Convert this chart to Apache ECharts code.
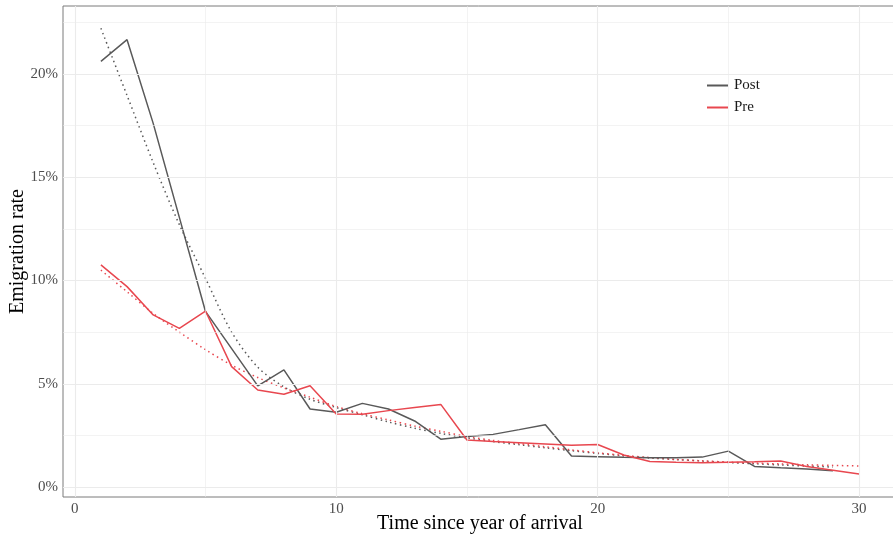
<!DOCTYPE html>
<html>
<head>
<meta charset="utf-8">
<script src="https://cdn.jsdelivr.net/npm/echarts@6/dist/echarts.min.js"></script>
<style>
  html, body { margin: 0; padding: 0; background: #fff; }
  #chart { width: 893px; height: 535px; }
</style>
</head>
<body>
<div id="chart"></div>
<script>
// Years since arrival
const years = [1,2,3,4,5,6,7,8,9,10,11,12,13,14,15,16,17,18,19,20,21,22,23,24,25,26,27,28,29,30];

// Observed emigration rates (%)
const postRate = [20.6,21.65,17.6,13.05,8.5,6.7,4.9,5.67,3.78,3.62,4.05,3.78,3.2,2.32,2.45,2.55,2.78,3.02,1.5,1.47,1.44,1.42,1.42,1.45,1.74,1.0,0.93,0.87,0.79];
const preRate  = [10.75,9.7,8.33,7.68,8.52,5.83,4.7,4.49,4.9,3.54,3.52,3.7,3.85,4.0,2.28,2.21,2.15,2.09,2.02,2.06,1.55,1.24,1.2,1.18,1.2,1.22,1.26,1.0,0.82,0.63];

// Fitted trends (%)
const postFit = [22.2,18.95,15.7,12.7,10.1,7.5,5.8,4.85,4.25,3.85,3.5,3.15,2.85,2.6,2.38,2.2,2.05,1.9,1.76,1.63,1.51,1.41,1.33,1.26,1.19,1.13,1.07,1.02,0.97];
const preFit  = [10.5,9.45,8.4,7.5,6.65,5.9,5.3,4.8,4.35,3.9,3.55,3.25,2.95,2.7,2.45,2.26,2.1,1.95,1.8,1.66,1.53,1.43,1.34,1.27,1.21,1.16,1.12,1.08,1.05,1.02];

// Axis ticks
const xTicks = [0, 10, 20, 30];
const xMinor = [5, 15, 25];
const yTicks = [0, 5, 10, 15, 20];
const yMinor = [2.5, 7.5, 12.5, 17.5, 22.5];

const POST_COLOR = '#595959';
const PRE_COLOR = '#E8474F';
const FONT = '"Liberation Serif", "DejaVu Serif", serif';

const pairs = (xs, ys) => ys.map((v, i) => [xs[i], v]);

const gridLines = [];
xTicks.forEach(v => gridLines.push({ xAxis: v, lineStyle: { width: 1.1 } }));
xMinor.forEach(v => gridLines.push({ xAxis: v, lineStyle: { width: 0.6 } }));
yTicks.forEach(v => gridLines.push({ yAxis: v, lineStyle: { width: 1.1 } }));
yMinor.forEach(v => gridLines.push({ yAxis: v, lineStyle: { width: 0.6 } }));

const chart = echarts.init(document.getElementById('chart'), null, { renderer: 'canvas' });

chart.setOption({
  animation: false,
  backgroundColor: '#ffffff',
  textStyle: { fontFamily: FONT },
  grid: {
    left: 63, top: 6, right: -4, bottom: 38,
    containLabel: false, outerBoundsMode: 'none',
    show: true, borderColor: '#7a7a7a', borderWidth: 1, backgroundColor: 'transparent'
  },
  legend: {
    data: ['Post', 'Pre'],
    orient: 'vertical',
    left: 702, top: 73,
    itemWidth: 21, itemHeight: 2, itemGap: 7,
    icon: 'rect',
    textStyle: { fontFamily: FONT, fontSize: 15, color: '#1a1a1a', padding: [0, 0, 0, 1] }
  },
  xAxis: {
    type: 'value',
    min: -0.45, max: 31.45,
    name: 'Time since year of arrival',
    nameLocation: 'middle', nameGap: 17, nameMoveOverlap: false,
    nameTextStyle: { fontFamily: FONT, fontSize: 20, color: '#000' },
    axisLine: { show: false },
    axisTick: { show: true, customValues: xTicks, length: 4, lineStyle: { color: '#333' } },
    axisLabel: { customValues: xTicks, fontFamily: FONT, fontSize: 15, color: '#4d4d4d', margin: 5 },
    splitLine: { show: false }
  },
  yAxis: {
    type: 'value',
    min: -0.48, max: 23.28,
    name: 'Emigration rate',
    nameLocation: 'middle', nameGap: 35, nameMoveOverlap: false,
    nameTextStyle: { fontFamily: FONT, fontSize: 20, color: '#000' },
    axisLine: { show: false },
    axisTick: { show: true, customValues: yTicks, length: 4, lineStyle: { color: '#333' } },
    axisLabel: { customValues: yTicks, fontFamily: FONT, fontSize: 15, color: '#4d4d4d', margin: 5,
      formatter: v => v + '%' },
    splitLine: { show: false }
  },
  series: [
    {
      name: 'grid', type: 'line', data: [], silent: true, z: 0,
      markLine: {
        silent: true, symbol: 'none', animation: false,
        label: { show: false },
        lineStyle: { color: '#ebebeb', type: 'solid', width: 1 },
        emphasis: { disabled: true },
        data: gridLines
      }
    },
    {
      name: 'Post', type: 'line', data: pairs(years, postRate),
      showSymbol: false, symbol: 'none', z: 3,
      lineStyle: { color: POST_COLOR, width: 1.5 }, itemStyle: { color: POST_COLOR }
    },
    {
      name: 'Pre', type: 'line', data: pairs(years, preRate),
      showSymbol: false, symbol: 'none', z: 3,
      lineStyle: { color: PRE_COLOR, width: 1.5 }, itemStyle: { color: PRE_COLOR }
    },
    {
      name: 'Post trend', type: 'line', data: pairs(years, postFit), smooth: 0.3,
      showSymbol: false, symbol: 'none', z: 2,
      lineStyle: { color: POST_COLOR, width: 1.5, type: [1.5, 3.5] }
    },
    {
      name: 'Pre trend', type: 'line', data: pairs(years, preFit), smooth: 0.3,
      showSymbol: false, symbol: 'none', z: 2,
      lineStyle: { color: PRE_COLOR, width: 1.5, type: [1.5, 3.5] }
    }
  ]
});
</script>
</body>
</html>
